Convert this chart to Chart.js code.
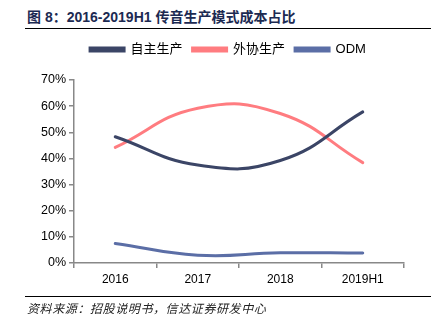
<!DOCTYPE html>
<html>
<head>
<meta charset="utf-8">
<script src="https://cdn.jsdelivr.net/npm/chart.js@4.4.0/dist/chart.umd.min.js"></script>
<style>
    body { margin: 0; width: 444px; height: 325px; background: #fff; position: relative; overflow: hidden; }
    #title { position: absolute; left: 27px; top: 6px; font: bold 14px "Liberation Sans", "Noto Sans CJK SC", sans-serif; color: #1c2a52; white-space: nowrap; }
    .rule { position: absolute; left: 25px; width: 406px; height: 0; border-top: 1.5px solid #000; }
    #source { position: absolute; left: 27px; top: 299px; font: italic 12px "Noto Sans CJK SC", sans-serif; color: #222; white-space: nowrap; letter-spacing: 0.6px; }
    #wrap { position: absolute; left: 0; top: 0; width: 444px; height: 325px; }
</style>
</head>
<body>
<div id="title">图 8：2016-2019H1 传音生产模式成本占比</div>
<div class="rule" style="top: 28px;"></div>
<div id="wrap"><canvas id="chart" width="444" height="325"></canvas></div>
<div class="rule" style="top: 296px;"></div>
<div id="source">资料来源：招股说明书，信达证券研发中心</div>
<script>
const years = ['2016', '2017', '2018', '2019H1'];
const selfMade = [0.483, 0.375, 0.392, 0.578];   // 自主生产
const outsourced = [0.442, 0.592, 0.572, 0.384]; // 外协生产
const odm = [0.075, 0.030, 0.039, 0.038];        // ODM
const yTicks = [0, 0.1, 0.2, 0.3, 0.4, 0.5, 0.6, 0.7];

const axisColor = '#888888';
const fontFamily = '"Liberation Sans", "Noto Sans CJK SC", sans-serif';

function series(label, data, color) {
    return {
        label: label,
        data: data,
        borderColor: color,
        backgroundColor: color,
        borderWidth: 3,
        pointRadius: 0,
        tension: 0.45,
        borderCapStyle: 'round',
        fill: false
    };
}

// leave a gap between the legend and the plot, and nudge the legend right
const legendGap = {
    id: 'legendGap',
    beforeInit(chart) {
        const fit = chart.legend.fit;
        chart.legend.fit = function () {
            fit.bind(chart.legend)();
            this.height += 14;
        };
    },
    afterLayout(chart) {
        chart.legend.left += 6;
        chart.legend.right += 6;
    }
};

new Chart(document.getElementById('chart').getContext('2d'), {
    type: 'line',
    data: {
        labels: years,
        datasets: [
            series('自主生产', selfMade, '#3b4566'),
            series('外协生产', outsourced, '#ff7c80'),
            series('ODM', odm, '#5b6ea6')
        ]
    },
    plugins: [legendGap],
    options: {
        responsive: false,
        animation: false,
        layout: { padding: { top: 33, left: 40, right: 40, bottom: 32 } },
        plugins: {
            legend: {
                position: 'top',
                labels: {
                    boxWidth: 34,
                    boxHeight: 3,
                    padding: 10,
                    color: '#000',
                    font: { family: fontFamily, size: 13 }
                }
            },
            tooltip: { enabled: false }
        },
        scales: {
            x: {
                offset: true,
                afterFit: scale => { scale.height = 30; },
                grid: { display: true, drawOnChartArea: false, offset: true, tickLength: 5, color: axisColor, lineWidth: 1.5 },
                border: { color: axisColor, width: 1.5 },
                ticks: { color: '#000', font: { family: fontFamily, size: 12 }, padding: 4 }
            },
            y: {
                min: 0,
                max: 0.7,
                afterFit: scale => { scale.width = 34; },
                afterBuildTicks: scale => { scale.ticks = yTicks.map(v => ({ value: v })); },
                grid: { display: true, drawOnChartArea: false, tickLength: 5, color: axisColor, lineWidth: 1.5 },
                border: { color: axisColor, width: 1.5 },
                ticks: {
                    color: '#000',
                    font: { family: fontFamily, size: 12.5 },
                    padding: 3,
                    callback: v => Math.round(v * 100) + '%'
                }
            }
        }
    }
});
</script>
</body>
</html>
